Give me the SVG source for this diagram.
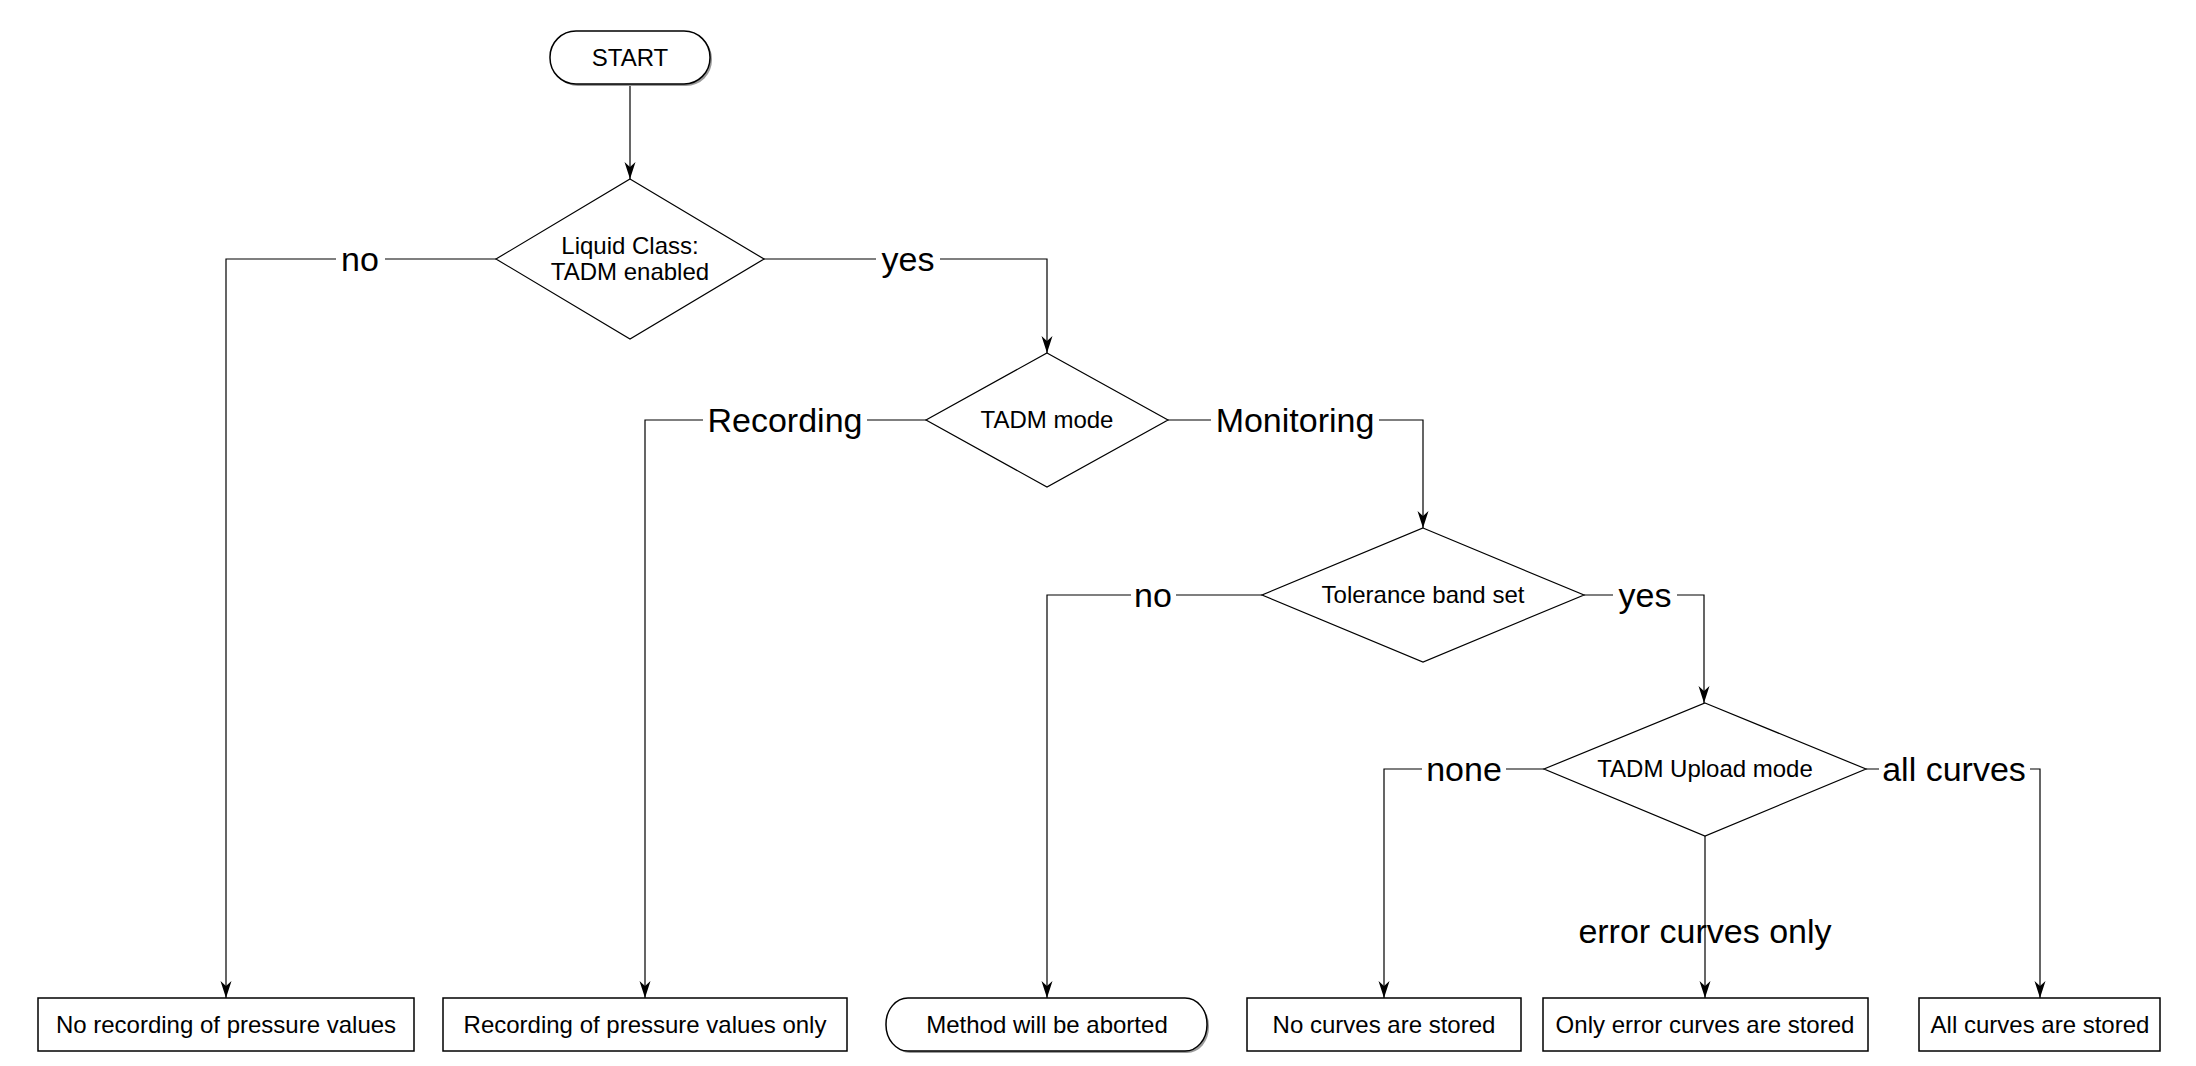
<svg xmlns="http://www.w3.org/2000/svg" width="2196" height="1066" viewBox="0 0 2196 1066">
<style>
  .node { fill: #ffffff; stroke: #000000; stroke-width: 1.5; }
  .dia { fill: #ffffff; stroke: #000000; stroke-width: 1.2; }
  .shadow { fill: #9a9a9a; stroke: none; }
  .t { font-family: "Liberation Sans", Arial, sans-serif; font-size: 24px; fill: #000000; text-anchor: middle; }
  .lbl { font-family: "Liberation Sans", Arial, sans-serif; font-size: 34px; fill: #000000; text-anchor: middle; }
  .conn { fill: none; stroke: #000000; stroke-width: 1.2; }
</style>
<defs>
  <marker id="arrow" markerUnits="userSpaceOnUse" markerWidth="20" markerHeight="14" viewBox="-18 -7 20 14" refX="0" refY="0" orient="auto">
    <path d="M0,0 L-17,-5.5 L-12,0 L-17,5.5 Z" fill="#000000"/>
  </marker>
</defs>
<rect width="2196" height="1066" fill="#ffffff"/>

<g id="connectors">
  <path class="conn" d="M630,84 V179" marker-end="url(#arrow)"/>
  <path class="conn" d="M496,259 H385 M336,259 H226 V998" marker-end="url(#arrow)"/>
  <path class="conn" d="M764,259 H876 M940,259 H1047 V353" marker-end="url(#arrow)"/>
  <path class="conn" d="M926,420 H867 M703,420 H645 V998" marker-end="url(#arrow)"/>
  <path class="conn" d="M1168,420 H1211 M1379,420 H1423 V528" marker-end="url(#arrow)"/>
  <path class="conn" d="M1262,595 H1176 M1131,595 H1047 V998" marker-end="url(#arrow)"/>
  <path class="conn" d="M1584,595 H1613 M1677,595 H1704 V703" marker-end="url(#arrow)"/>
  <path class="conn" d="M1544,769 H1506 M1422,769 H1384 V998" marker-end="url(#arrow)"/>
  <path class="conn" d="M1866,769 H1879 M2030,769 H2040 V998" marker-end="url(#arrow)"/>
  <path class="conn" d="M1705,836 V998" marker-end="url(#arrow)"/>
  <text class="lbl" x="360" y="271">no</text>
  <text class="lbl" x="908" y="271">yes</text>
  <text class="lbl" x="785" y="432">Recording</text>
  <text class="lbl" x="1295" y="432">Monitoring</text>
  <text class="lbl" x="1153" y="607">no</text>
  <text class="lbl" x="1645" y="607">yes</text>
  <text class="lbl" x="1464" y="781">none</text>
  <text class="lbl" x="1954" y="781">all curves</text>
  <text class="lbl" x="1705" y="943">error curves only</text>
</g>

<g id="start">
  <rect class="shadow" x="552" y="33" width="160" height="53" rx="26" ry="26"/>
  <rect class="node" x="550" y="31" width="160" height="53" rx="26" ry="26"/>
  <text class="t" x="630" y="66">START</text>
</g>

<g id="liquid-class">
  <polygon class="dia" points="630,179 764,259 630,339 496,259"/>
  <text class="t" x="630" y="254">Liquid Class:</text>
  <text class="t" x="630" y="280">TADM enabled</text>
</g>

<g id="tadm-mode">
  <polygon class="dia" points="1047,353 1168,420 1047,487 926,420"/>
  <text class="t" x="1047" y="428">TADM mode</text>
</g>

<g id="tolerance-band">
  <polygon class="dia" points="1423,528 1584,595 1423,662 1262,595"/>
  <text class="t" x="1423" y="603">Tolerance band set</text>
</g>

<g id="upload-mode">
  <polygon class="dia" points="1705,703 1866,769 1705,836 1544,769"/>
  <text class="t" x="1705" y="777">TADM Upload mode</text>
</g>

<g id="no-recording">
  <rect class="node" x="38" y="998" width="376" height="53"/>
  <text class="t" x="226" y="1033">No recording of pressure values</text>
</g>

<g id="recording-only">
  <rect class="node" x="443" y="998" width="404" height="53"/>
  <text class="t" x="645" y="1033">Recording of pressure values only</text>
</g>

<g id="aborted">
  <rect class="shadow" x="888" y="1000" width="321" height="53" rx="22" ry="26"/>
  <rect class="node" x="886" y="998" width="321" height="53" rx="22" ry="26"/>
  <text class="t" x="1047" y="1033">Method will be aborted</text>
</g>

<g id="no-curves">
  <rect class="node" x="1247" y="998" width="274" height="53"/>
  <text class="t" x="1384" y="1033">No curves are stored</text>
</g>

<g id="error-curves">
  <rect class="node" x="1543" y="998" width="325" height="53"/>
  <text class="t" x="1705" y="1033">Only error curves are stored</text>
</g>

<g id="all-curves">
  <rect class="node" x="1919" y="998" width="241" height="53"/>
  <text class="t" x="2040" y="1033">All curves are stored</text>
</g>
</svg>
